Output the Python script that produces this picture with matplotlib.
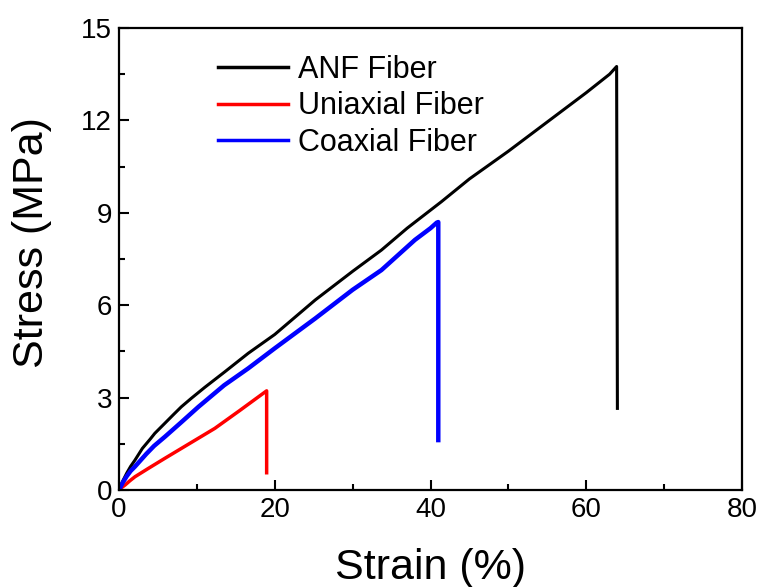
import matplotlib
matplotlib.use("Agg")
import matplotlib.pyplot as plt
from matplotlib.ticker import MultipleLocator

plt.rcParams['font.family'] = ['Liberation Sans', 'DejaVu Sans']

anf_strain = [0, 0.5, 1.0, 1.5, 2.05, 3.0, 4.0, 4.6, 5.9, 7.0, 8.0, 9.3, 11.0, 13.6, 16.6, 20.0, 25.2, 30.0, 33.7, 37.0, 41.4, 45.0, 50.0, 55.0, 60.0, 63.0, 63.9, 64.0]
anf_stress = [0, 0.3, 0.55, 0.77, 0.97, 1.35, 1.65, 1.84, 2.17, 2.45, 2.7, 2.98, 3.33, 3.84, 4.44, 5.05, 6.17, 7.1, 7.79, 8.5, 9.36, 10.1, 11.0, 11.95, 12.9, 13.5, 13.75, 2.65]

uni_strain = [0, 0.4, 0.77, 1.4, 2.05, 3.0, 3.76, 5.9, 9.0, 12.3, 15.5, 18.96, 18.96]
uni_stress = [0, 0.09, 0.16, 0.3, 0.43, 0.58, 0.70, 1.03, 1.5, 2.0, 2.58, 3.22, 0.56]

coax_strain = [0, 0.5, 1.0, 1.5, 2.05, 3.5, 4.5, 5.9, 8.0, 10.2, 13.5, 16.6, 20.0, 25.2, 30.0, 33.7, 38.0, 40.0, 40.8, 41.0, 41.0]
coax_stress = [0, 0.25, 0.45, 0.62, 0.76, 1.17, 1.43, 1.73, 2.2, 2.7, 3.4, 3.95, 4.6, 5.57, 6.5, 7.14, 8.12, 8.5, 8.68, 8.7, 1.62]

labels = ["ANF Fiber", "Uniaxial Fiber", "Coaxial Fiber"]

fig = plt.figure(figsize=(7.63, 5.87), dpi=100)
ax = fig.add_axes([119/763, 1 - 490/587, (742-119)/763, (490-28)/587])

ax.plot(anf_strain, anf_stress, color='black', lw=2.2, label=labels[0])
ax.plot(uni_strain, uni_stress, color='red', lw=2.5, label=labels[1])
ax.plot(coax_strain, coax_stress, color='blue', lw=3.2, label=labels[2])

ax.set_xlim(0, 80)
ax.set_ylim(0, 15)
ax.xaxis.set_major_locator(MultipleLocator(20))
ax.xaxis.set_minor_locator(MultipleLocator(10))
ax.yaxis.set_major_locator(MultipleLocator(3))
ax.yaxis.set_minor_locator(MultipleLocator(1.5))
ax.tick_params(which='both', direction='in', top=False, right=False, width=1.5, labelsize=20, pad=5)
ax.tick_params(which='major', length=7)
ax.tick_params(which='minor', length=4)
for s in ax.spines.values():
    s.set_linewidth(1.6)

ax.set_xlabel("Strain (%)", fontsize=31, labelpad=18)
ax.set_ylabel("Stress (MPa)", fontsize=31)
ax.yaxis.set_label_coords(-0.108, 0.535)

leg = ax.legend(loc='upper left', bbox_to_anchor=(0.115, 1.002), frameon=False,
                fontsize=22, handlelength=2.3, handletextpad=0.3, labelspacing=0.22)
for h in leg.get_lines():
    h.set_linewidth(2.5)

fig.savefig("out.png", dpi=100)
